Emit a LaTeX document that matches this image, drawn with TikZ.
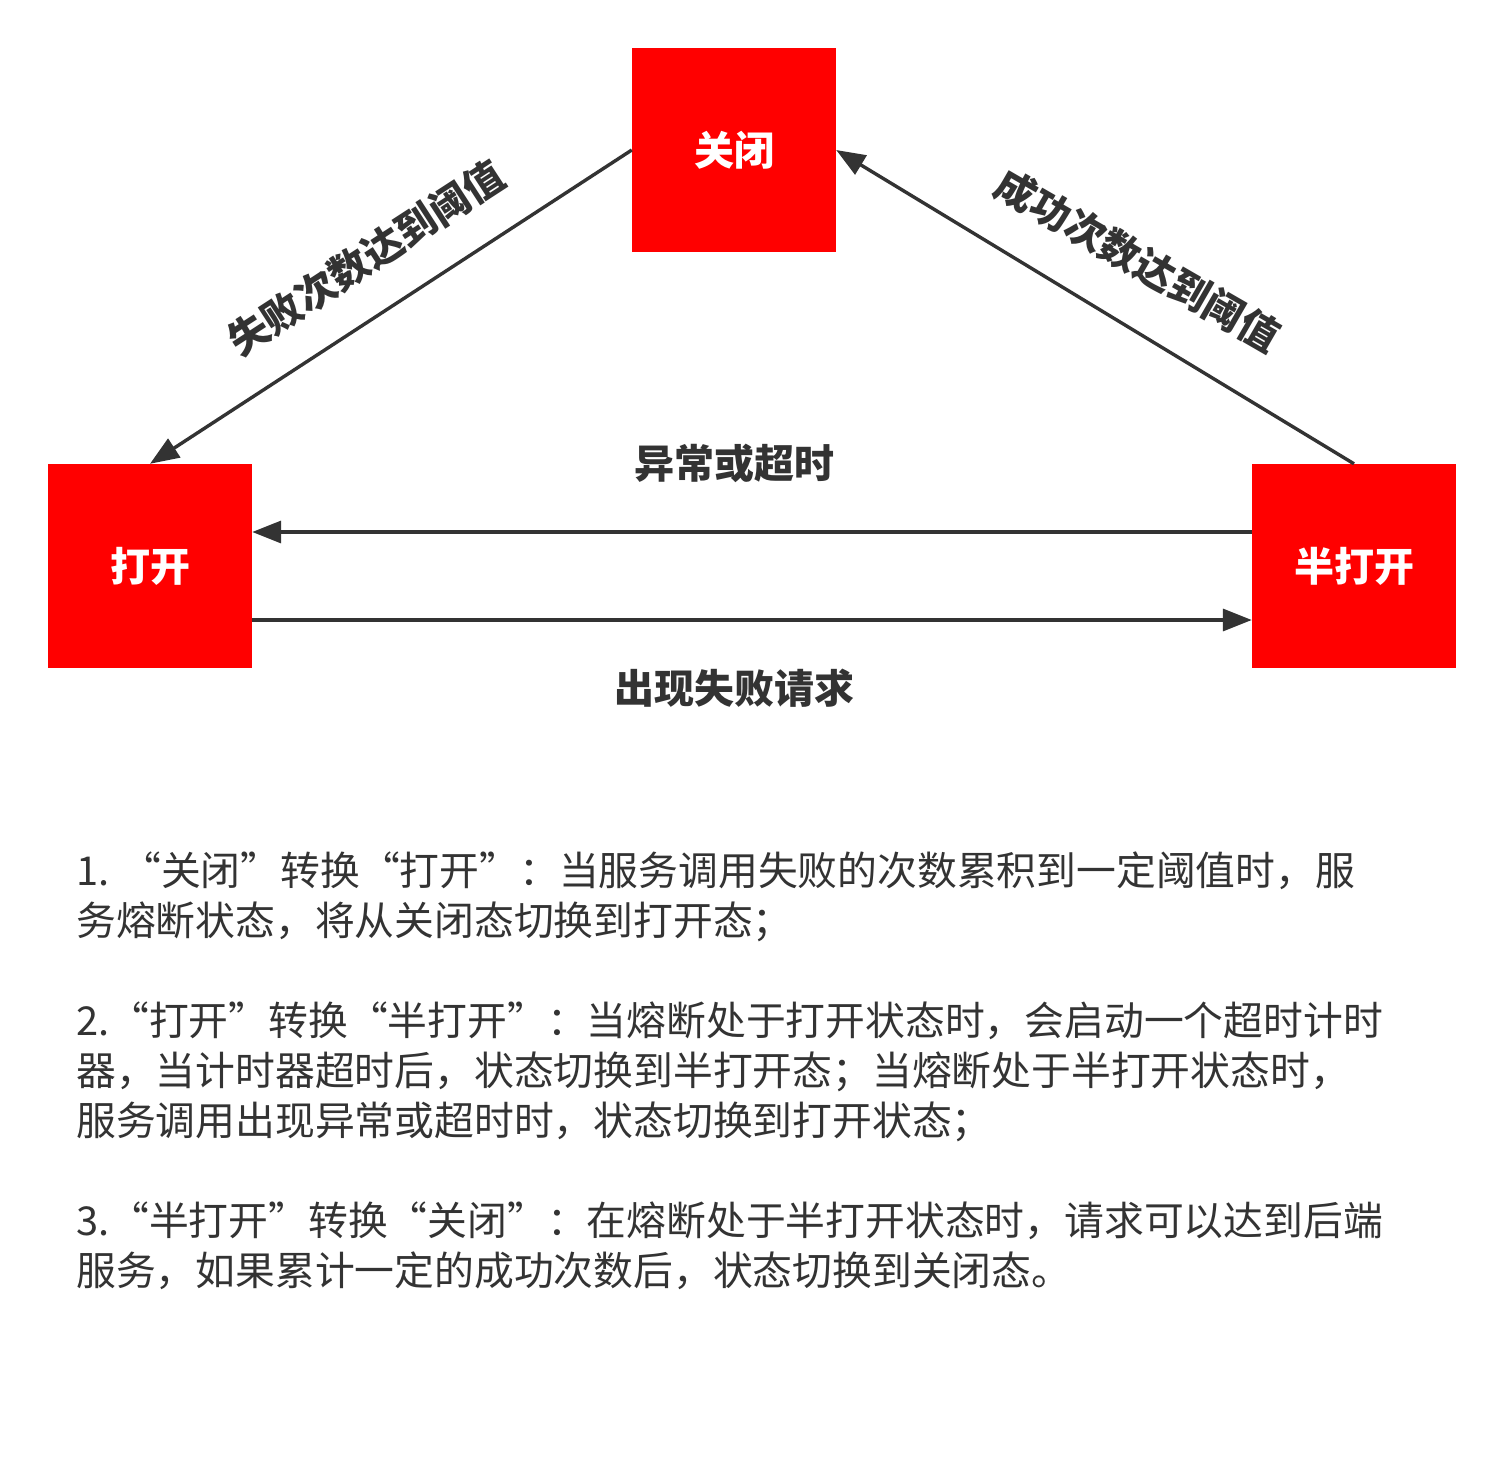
\documentclass[tikz,border=0pt]{standalone}
\usepackage{fontspec}
\setmainfont{Noto Sans CJK SC}
\usetikzlibrary{arrows.meta}
\definecolor{ink}{HTML}{333333}
\definecolor{boxred}{HTML}{FF0000}
\begin{document}
\begin{tikzpicture}[x=1pt,y=-1pt,
  statebox/.style={fill=boxred, draw=none, minimum width=204pt, minimum height=204pt, inner sep=0pt, text=white, font=\fontsize{40}{48}\selectfont\bfseries},
  conn/.style={draw=ink, line width=3.4pt, -{Triangle[length=29pt,width=22pt]}},
  lbl/.style={text=ink, font=\fontsize{40}{48}\selectfont\bfseries, inner sep=0pt},
  para/.style={text=ink, font=\fontsize{39.8}{48}\selectfont, inner sep=0pt, anchor=base west}]
\useasboundingbox (0,0) rectangle (1504,1464);
\fill[white] (0,0) rectangle (1504,1464);
% states
\node[statebox] (gb) at (734,150) {关闭};
\node[statebox] (dk) at (150,566) {打开};
\node[statebox] (bk) at (1354,566) {半打开};
% connectors
\draw[conn] (gb.west) -- (dk.north);
\draw[conn] (bk.north) -- (gb.east);
\draw[conn] ([yshift=34pt]bk.west) -- ([yshift=34pt]dk.east);
\draw[conn] ([yshift=-54pt]dk.east) -- ([yshift=-54pt]bk.west);
% labels
\node[lbl, rotate=33] (l1) at (366,258) {失败次数达到阈值};
\node[lbl, rotate=-30] (l2) at (1138,260) {成功次数达到阈值};
\node[lbl] (l3) at (734,463) {异常或超时};
\node[lbl] (l4) at (734,688) {出现失败请求};
% paragraphs
\node[para] (p1a) at (76,885) {1. “关闭”转换“打开”：当服务调用失败的次数累积到一定阈值时，服};
\node[para] (p1b) at (76,935) {务熔断状态，将从关闭态切换到打开态；};
\node[para] (p2a) at (76,1035) {2.“打开”转换“半打开”：当熔断处于打开状态时，会启动一个超时计时};
\node[para] (p2b) at (76,1085) {器，当计时器超时后，状态切换到半打开态；当熔断处于半打开状态时，};
\node[para] (p2c) at (76,1135) {服务调用出现异常或超时时，状态切换到打开状态；};
\node[para] (p3a) at (76,1235) {3.“半打开”转换“关闭”：在熔断处于半打开状态时，请求可以达到后端};
\node[para] (p3b) at (76,1285) {服务，如果累计一定的成功次数后，状态切换到关闭态。};
\end{tikzpicture}
\end{document}
